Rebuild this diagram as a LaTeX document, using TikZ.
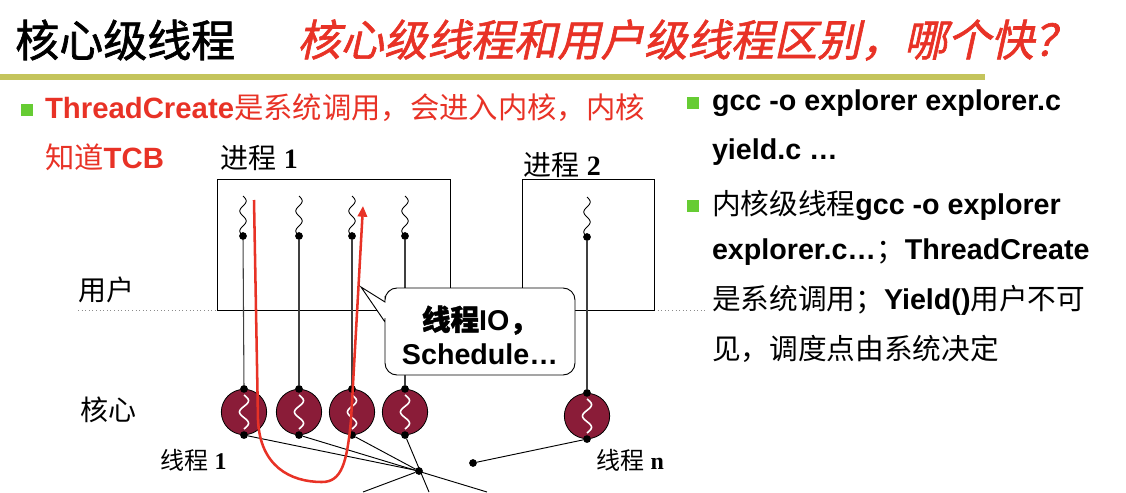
\documentclass[tikz,border=0pt]{standalone}
\usepackage{fontspec}
\setmainfont{Liberation Sans}
\newfontfamily\zh{Noto Sans CJK SC}
\newfontfamily\zhbold{Noto Sans CJK SC}[FakeBold=1.5]
\newfontfamily\zhslant{Noto Sans CJK SC}[FakeSlant=0.22,FakeBold=1.4]
\newfontfamily\serifnum{Liberation Serif}
\usetikzlibrary{arrows.meta,calc}

\definecolor{titlered}{RGB}{232,50,38}
\definecolor{rulegold}{RGB}{196,196,92}
\definecolor{bulletgreen}{RGB}{102,204,51}
\definecolor{coremaroon}{RGB}{138,28,56}

\tikzset{
  txt/.style={inner sep=0pt, outer sep=0pt, anchor=west, font=\fontsize{21.5}{24}\selectfont},
  lbl/.style={inner sep=0pt, outer sep=0pt, anchor=west, font=\fontsize{21}{24}\selectfont},
  small/.style={inner sep=0pt, outer sep=0pt, anchor=west, font=\fontsize{18}{20}\selectfont},
  bullet/.style={fill=bulletgreen, minimum size=8.5pt, inner sep=0pt, outer sep=0pt},
  dot/.style={circle, fill=black, inner sep=0pt, minimum size=5.8pt, outer sep=0pt},
  core/.style={circle, draw=black, line width=0.6pt, fill=coremaroon, minimum size=34pt, inner sep=0pt},
  thread/.style={draw=black!75, line width=0.8pt},
  wiggle/.style={line width=0.65pt},
  corewiggle/.style={draw=white, line width=1.2pt},
  link/.style={draw=black, line width=0.7pt},
  procbox/.style={draw=black, line width=0.7pt},
  flow/.style={draw=titlered, line width=1.9pt, -{Triangle[length=8pt,width=7pt]}},
  bubble/.style={draw=black, line width=0.7pt, fill=white},
}

% user-level squiggle ending in a thread dot
\newcommand\userwig[2]{%
  \draw[wiggle] plot[domain=0:40, samples=60, variable=\t] ({#1+3.2*sin(\t*18)},{#2-40+\t});}
% white squiggle inside a kernel core
\newcommand\corewig[2]{%
  \draw[corewiggle] plot[domain=0:34, samples=60, variable=\t] ({#1+4.5*sin(\t*15.9)},{#2-17+\t});}

\begin{document}
\begin{tikzpicture}[x=0.75pt, y=-0.75pt]
\useasboundingbox (0,0) rectangle (1126,492);

% ---------- heading ----------
\node[inner sep=0pt, anchor=west, font=\fontsize{33}{36}\selectfont\zhbold] (head) at (15,40) {核心级线程};
\node[inner sep=0pt, anchor=west, text=titlered, font=\fontsize{32.5}{36}\selectfont\zhslant] (question) at (297,40) {核心级线程和用户级线程区别，哪个快？};
\coordinate (ruleL) at (0,77);
\coordinate (ruleR) at (985,77);
\draw[rulegold, line width=3.8pt] (ruleL) -- (ruleR);

% ---------- left note ----------
\node[bullet] (bl1) at (27,110) {};
\node[txt, text=titlered, font=\fontsize{22}{24}\selectfont] (note1) at (45,108) {\textbf{ThreadCreate}{\zh 是系统调用，会进入内核，内核}};
\node[txt, text=titlered, font=\fontsize{22}{24}\selectfont] (note2) at (45,157) {{\zh 知道}\textbf{TCB}};

% ---------- right notes ----------
\node[bullet] (br1) at (693,103) {};
\node[txt] (r1) at (712,103) {\textbf{gcc -o explorer explorer.c}};
\node[txt] (r2) at (712,152) {\textbf{yield.c …}};
\node[bullet] (br2) at (693,206) {};
\node[txt] (r3) at (712,205) {{\zh 内核级线程}\textbf{gcc -o explorer}};
\node[txt] (r4) at (712,252) {\textbf{explorer.c…}{\zh ；}\textbf{ThreadCreate}};
\node[txt] (r5) at (712,300) {{\zh 是系统调用；}\textbf{Yield()}{\zh 用户不可}};
\node[txt] (r6) at (712,349) {{\zh 见，调度点由系统决定}};

% ---------- user / kernel boundary ----------
\coordinate (sepL) at (78,310);
\coordinate (sepR) at (705,310);
\draw[black!45, dotted, line width=0.7pt] (sepL) -- (sepR);
\node[lbl] (user) at (78,290) {\zh 用户};
\node[lbl] (kern) at (80,410) {\zh 核心};

% ---------- processes ----------
\draw[procbox] (217,179) rectangle (450,310);
\draw[procbox] (522,179) rectangle (654,310);
\node[lbl] (p1) at (220,158) {{\zh 进程} {\serifnum\bfseries 1}};
\node[lbl] (p2) at (523,165) {{\zh 进程} {\serifnum\bfseries 2}};

% user-level threads
\userwig{243}{236}
\userwig{299}{236}
\userwig{352}{236}
\userwig{405}{236}
\userwig{587}{237}
\node[dot] (t1) at (243,236) {};
\node[dot] (t2) at (299,236) {};
\node[dot] (t3) at (352,236) {};
\node[dot] (t4) at (405,236) {};
\node[dot] (t5) at (587,237) {};

% ---------- kernel cores ----------
\node[core] (c1) at (244,412) {};
\node[core] (c2) at (299,412) {};
\node[core] (c3) at (352,412) {};
\node[core] (c4) at (405,412) {};
\node[core] (c5) at (587,416) {};
\corewig{244}{412}
\corewig{299}{412}
\corewig{352}{412}
\corewig{405}{412}
\corewig{587}{416}
\foreach \i in {1,...,5} {
  \node[dot] (a\i) at (c\i.north) {};
  \node[dot] (b\i) at (c\i.south) {};
  \draw[thread] (t\i) -- (a\i);
}

% ---------- links below the cores ----------
\node[dot] (hub) at (419,471) {};
\node[dot] (tn) at (473,463) {};
\coordinate (e2) at (487,492);
\coordinate (e4) at (429,492);
\coordinate (e0) at (363,492);
\draw[link] (b1) -- (hub);
\draw[link] (b2) -- (e2);
\draw[link] (b3) -- (hub);
\draw[link] (b4) -- (e4);
\draw[link] (hub) -- (e0);
\draw[link] (tn) -- (b5);
\node[small] (l1) at (160,460) {{\zh 线程} {\serifnum\bfseries 1}};
\node[small] (ln) at (596,460) {{\zh 线程} {\serifnum\bfseries n}};

% ---------- red control flow ----------
\coordinate (fs) at (254,200);
\coordinate (fa) at (258,420);
\coordinate (fb) at (322,482);
\coordinate (fc) at (351,420);
\coordinate (fe) at (363,206);
\draw[flow] (fs) -- (fa) .. controls (260,466) and (290,482) .. (fb)
  .. controls (342,482) and (347,462) .. (fc) -- (fe);

% ---------- speech bubble ----------
\draw[bubble] (361,287) -- (385,302) -- (385,296) [rounded corners=9pt] -- (385,288)
  -- (575,288) -- (575,375) -- (385,375) -- (385,330) [sharp corners] -- (385,322) -- cycle;
\node[align=center, inner sep=0pt, font=\fontsize{21.5}{25.5}\selectfont\bfseries] (bubbletext) at (480,335)
  {{\zhbold 线程}IO{\zhbold ，}\\Schedule…};

\end{tikzpicture}
\end{document}
